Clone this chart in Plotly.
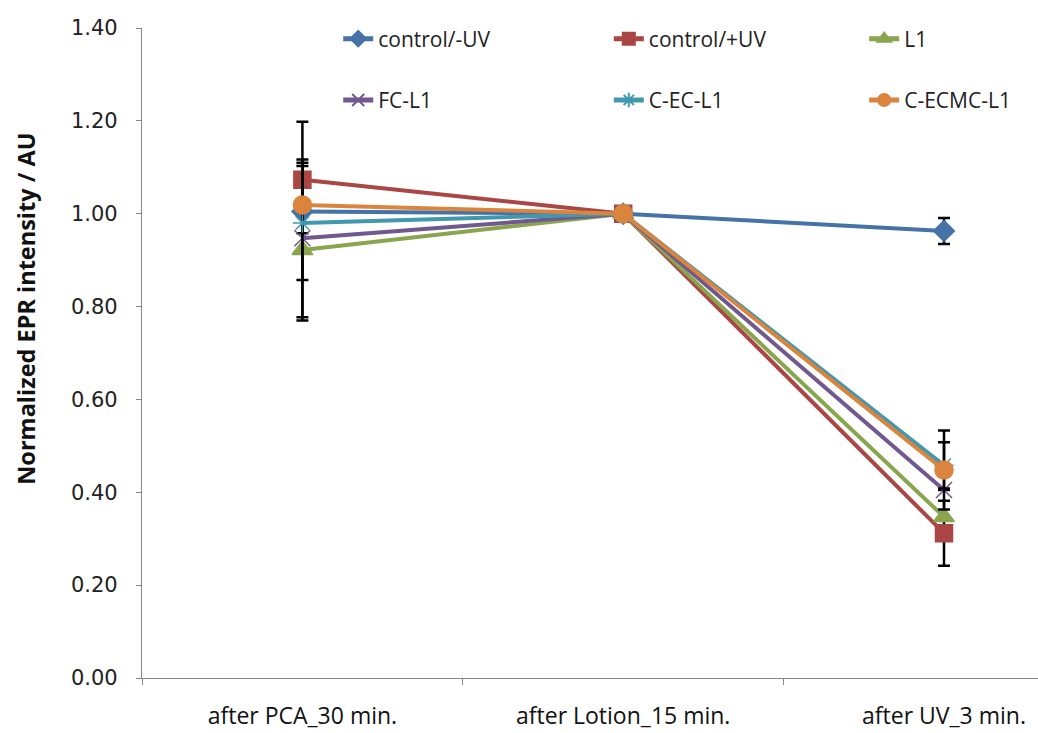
import plotly.graph_objects as go

# Sampling stages along the x axis
stages = ["after PCA_30 min.", "after Lotion_15 min.", "after UV_3 min."]

# Normalized EPR intensity per formulation
ctrl_minus_uv = [1.005, 1.00, 0.963]
ctrl_plus_uv = [1.073, 1.00, 0.312]
l1 = [0.922, 1.00, 0.347]
fc_l1 = [0.947, 1.00, 0.405]
c_ec_l1 = [0.980, 1.00, 0.458]
c_ecmc_l1 = [1.019, 1.00, 0.448]

# Error bar half-widths (upper / lower)
ctrl_minus_uv_err = [0.0, 0.0, 0.028]
ctrl_plus_uv_err_up = [0.125, 0.0, 0.070]
ctrl_plus_uv_err_dn = [0.115, 0.0, 0.070]
l1_err_up = [0.188, 0.0, 0.0]
l1_err_dn = [0.152, 0.0, 0.0]
fc_l1_err = [0.170, 0.0, 0.0]
c_ec_l1_err = [0.123, 0.0, 0.050]
c_ecmc_l1_err = [0.0, 0.0, 0.085]

TEXT_FONT = "Open Sans, Roboto, sans-serif"

# Legend laid out as three columns of two entries each
series = [
    dict(name="control/-UV", y=ctrl_minus_uv, up=ctrl_minus_uv_err, dn=ctrl_minus_uv_err,
         color="#4572A7", symbol="diamond", size=16, legend="legend"),
    dict(name="control/+UV", y=ctrl_plus_uv, up=ctrl_plus_uv_err_up, dn=ctrl_plus_uv_err_dn,
         color="#AA4643", symbol="square", size=17, legend="legend2"),
    dict(name="L1", y=l1, up=l1_err_up, dn=l1_err_dn,
         color="#89A54E", symbol="triangle-up", size=18, legend="legend3"),
    dict(name="FC-L1", y=fc_l1, up=fc_l1_err, dn=fc_l1_err,
         color="#71588F", symbol="x-thin-open", size=16, legend="legend"),
    dict(name="C-EC-L1", y=c_ec_l1, up=c_ec_l1_err, dn=c_ec_l1_err,
         color="#4198AF", symbol="asterisk-open", size=16, legend="legend2"),
    dict(name="C-ECMC-L1", y=c_ecmc_l1, up=c_ecmc_l1_err, dn=c_ecmc_l1_err,
         color="#DB843D", symbol="circle", size=18, legend="legend3"),
]

fig = go.Figure()
for s in series:
    fig.add_trace(go.Scatter(
        x=stages, y=s["y"], name=s["name"], mode="lines+markers",
        line=dict(color=s["color"], width=4),
        marker=dict(symbol=s["symbol"], size=s["size"], color=s["color"],
                    line=dict(color=s["color"], width=1.5)),
        error_y=dict(type="data", symmetric=False, array=s["up"], arrayminus=s["dn"],
                     color="black", thickness=2.5, width=6),
        legend=s["legend"], legendgroup=s["name"],
    ))

leg_common = dict(orientation="v", xanchor="left", yanchor="top",
                  font=dict(family=TEXT_FONT, size=21, color="#222"),
                  tracegroupgap=31, itemsizing="constant",
                  bgcolor="rgba(0,0,0,0)", borderwidth=0)

fig.update_layout(
    width=1038, height=733,
    margin=dict(l=142, r=0, t=28, b=55, autoexpand=False),
    paper_bgcolor="white", plot_bgcolor="white",
    showlegend=True,
    legend=dict(x=0.219, y=1.0146, **leg_common),
    legend2=dict(x=0.521, y=1.0146, **leg_common),
    legend3=dict(x=0.806, y=1.0146, **leg_common),
    xaxis=dict(
        type="category", range=[-0.5, 2.293],
        showline=True, linecolor="#868686", linewidth=1.3,
        ticks="outside", tickson="boundaries", ticklen=6, tickcolor="#868686",
        showgrid=False, zeroline=False,
        tickfont=dict(family=TEXT_FONT, size=23, color="#111"),
        ticklabelstandoff=17,
    ),
    yaxis=dict(
        range=[0, 1.4], dtick=0.2, tickformat=".2f",
        showline=True, linecolor="#868686", linewidth=1.3,
        ticks="outside", ticklen=5, tickcolor="#868686",
        showgrid=False, zeroline=False,
        tickfont=dict(family="DejaVu Sans", size=21, color="#222"),
        ticklabelstandoff=14,
    ),
    annotations=[dict(
        text="<b>Normalized EPR intensity / AU</b>", textangle=-90,
        xref="paper", yref="paper", x=-0.1295, y=0.568,
        xanchor="center", yanchor="middle", showarrow=False,
        font=dict(family=TEXT_FONT, size=23.5, color="#111"),
    )],
)

fig.write_html("out.html")
